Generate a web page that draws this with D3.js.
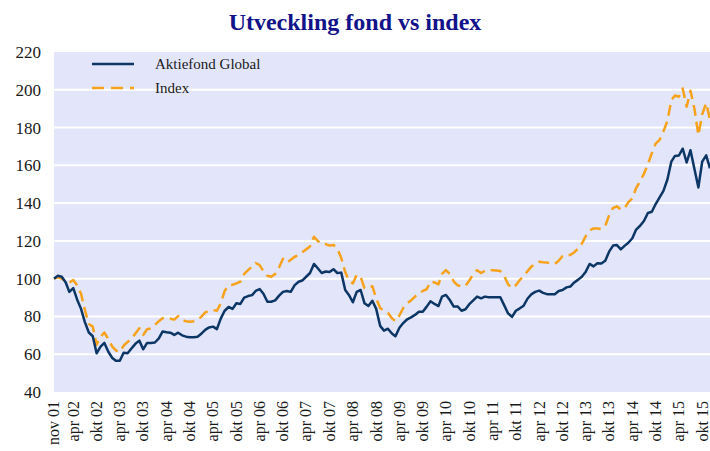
<!DOCTYPE html>
<html>
<head>
<meta charset="utf-8">
<script src="https://cdn.jsdelivr.net/npm/d3@7"></script>
<style>
  body { margin: 0; background: #fff; }
  svg text { font-family: "Liberation Serif", "DejaVu Serif", serif; }
</style>
</head>
<body>
<div id="chart"></div>
<script>
// monthly values, nov 01 -> dec 15
var fund = [
	100, 101.5, 101, 98, 93, 95, 89, 84, 77, 71.5, 69.5, 60.5,
	64, 66, 61.3, 58, 56.5, 56.5, 60.8, 60.5, 63, 65.5, 67.2, 62.6,
	66, 66, 66.2, 68.4, 72, 71.6, 71.4, 70.2, 71.4, 70, 69.3, 69,
	69, 69.3, 71, 73, 74.2, 74.6, 73.3, 79, 83, 85, 84, 87,
	86.6, 90, 90.8, 91.3, 93.5, 94.5, 92, 87.8, 87.8, 88.5, 91, 93,
	93.5, 93, 96.6, 98.4, 99, 101, 103, 107.8, 105.5, 103, 103.8, 103.5,
	105, 103, 103.2, 94, 91.4, 87.5, 93, 94, 87, 85.5, 88.3, 84,
	75, 72.5, 73.5, 71, 69.5, 74, 76.5, 78.5, 79.5, 80.8, 82.5, 82.5,
	85.2, 88, 86.6, 85.5, 90.5, 91.4, 88.7, 85.2, 85.3, 83, 83.8, 86.5,
	88.5, 90.5, 89.6, 90.5, 90.2, 90.2, 90.2, 90.2, 86, 81.6, 79.8, 83,
	84.3, 85.7, 89.5, 91.8, 93, 93.7, 92.5, 91.8, 91.8, 91.8, 93.5, 94,
	95.4, 95.8, 98, 99.5, 101, 103.7, 107.8, 106.5, 108.2, 108, 109.5, 114.3,
	117.5, 117.8, 115.5, 117.5, 119, 121.4, 126, 128, 130.5, 134.8, 135.4, 139.5,
	143, 146.5, 152.5, 162, 165, 165.2, 168.8, 161.5, 168, 158, 148.3, 162,
	165.3, 158.4
]

var index = [
	100, 100.7, 100, 98.5, 98, 99.3, 96.5, 92, 83.5, 76, 74.6, 65,
	69.3, 71.5, 68, 64, 62, 61.3, 64.5, 66.5, 68, 71, 73.7, 70.2,
	73.2, 73.7, 75.5, 77.5, 79, 79, 78.8, 78.3, 80.2, 78, 77.5, 77.2,
	77.5, 78.1, 80, 82.3, 82.7, 83.4, 83, 87, 93.5, 96.3, 96.8, 97.5,
	98.4, 102.5, 104.5, 106.5, 108.3, 107.2, 104, 101.5, 101, 102.5, 106, 110.5,
	108.5, 110, 111.6, 112.5, 114, 115.5, 117, 122.2, 120, 118.4, 118.3, 117.5,
	117.8, 116, 111, 103.5, 99, 97.5, 102, 101, 95, 95.5, 96, 89.5,
	84.5, 83, 82, 79, 77.5, 80.5, 84.5, 87, 88.5, 90.5, 92.2, 93.5,
	94.4, 98.5, 98, 97, 102.5, 104.5, 102.5, 98.5, 96.5, 96, 96.2, 99,
	102.5, 104.5, 103, 104.2, 104.6, 104.5, 104.3, 104, 101.5, 97, 95, 96.5,
	99.3, 101.5, 104, 106.5, 107.5, 109, 108.7, 108.5, 108.1, 107.8, 109.5, 112,
	112.5, 112.5, 114, 116, 118.5, 122.5, 125.5, 126.6, 126.6, 126.3, 128, 133.5,
	137.5, 138.3, 136.5, 137.5, 140.5, 142.5, 148, 151.5, 155.5, 160.5, 166.5, 171.5,
	173.5, 178, 183.5, 194.5, 197, 196.3, 200.7, 191, 199.5, 190, 176, 187,
	193, 184
]

var tickLabels = ["nov 01", "apr 02", "okt 02", "apr 03", "okt 03", "apr 04", "okt 04",
	"apr 05", "okt 05", "apr 06", "okt 06", "apr 07", "okt 07", "apr 08", "okt 08",
	"apr 09", "okt 09", "apr 10", "okt 10", "apr 11", "okt 11", "apr 12", "okt 12",
	"apr 13", "okt 13", "apr 14", "okt 14", "apr 15", "okt 15"]

var yTicks = [40, 60, 80, 100, 120, 140, 160, 180, 200, 220]
var seriesNames = ["Aktiefond Global", "Index"]

var months = ["jan","feb","mar","apr","maj","jun","jul","aug","sep","okt","nov","dec"]
function parseLabel(s) {
	var p = s.split(" ")
	return new Date(2000 + (+p[1]), months.indexOf(p[0]), 1)
}

var width = 710, height = 451
var margin = {top: 52, right: 0, bottom: 59, left: 54}

var startDate = new Date(2001, 10, 1)
var dates = fund.map(function(d, i) { return new Date(2001, 10 + i, 1) })

var x = d3.scaleTime()
	.domain([startDate, dates[dates.length - 1]])
	.range([margin.left, width - margin.right])

var y = d3.scaleLinear()
	.domain([40, 220])
	.range([height - margin.bottom, margin.top])

var svg = d3.select("#chart").append("svg")
	.attr("width", width)
	.attr("height", height)

svg.append("text")
	.attr("x", 355)
	.attr("y", 30)
	.attr("text-anchor", "middle")
	.attr("fill", "#12128a")
	.style("font-size", "24px")
	.style("font-weight", "bold")
	.text("Utveckling fond vs index")

svg.append("rect")
	.attr("x", margin.left)
	.attr("y", margin.top)
	.attr("width", width - margin.left - margin.right)
	.attr("height", height - margin.top - margin.bottom)
	.attr("fill", "#e3e5fa")

// grid
svg.append("g")
	.selectAll("line")
	.data(yTicks.filter(function(d) { return d > 40 && d < 220 }))
	.enter().append("line")
	.attr("x1", margin.left)
	.attr("x2", width)
	.attr("y1", function(d) { return y(d) })
	.attr("y2", function(d) { return y(d) })
	.attr("stroke", "#fff")
	.attr("stroke-width", 2)

var yAxis = d3.axisLeft(y).tickValues(yTicks).tickSize(0).tickPadding(13)
svg.append("g")
	.attr("transform", "translate(" + margin.left + ",0)")
	.call(yAxis)
	.call(function(g) { g.select(".domain").remove() })
	.selectAll("text")
	.style("font-size", "17px")
	.attr("fill", "#1a1a1a")

var xAxis = d3.axisBottom(x)
	.tickValues(tickLabels.map(parseLabel))
	.tickSize(0)
	.tickFormat(function(d, i) { return tickLabels[i] })

svg.append("g")
	.attr("transform", "translate(0," + (height - margin.bottom) + ")")
	.call(xAxis)
	.call(function(g) { g.select(".domain").remove() })
	.selectAll("text")
	.style("font-size", "16px")
	.attr("fill", "#1a1a1a")
	.attr("text-anchor", "end")
	.attr("transform", "rotate(-90)")
	.attr("x", -9)
	.attr("y", 0)
	.attr("dy", "0.3em")

var line = d3.line()
	.x(function(d, i) { return x(dates[i]) })
	.y(function(d) { return y(d) })

svg.append("path")
	.datum(index)
	.attr("fill", "none")
	.attr("stroke", "#f7a21c")
	.attr("stroke-width", 2.5)
	.attr("stroke-dasharray", "11,6")
	.attr("stroke-linejoin", "round")
	.attr("d", line)

svg.append("path")
	.datum(fund)
	.attr("fill", "none")
	.attr("stroke", "#0c3665")
	.attr("stroke-width", 2.5)
	.attr("stroke-linejoin", "round")
	.attr("d", line)

// legend
var legend = svg.append("g")
var legendStyles = [
	{color: "#0c3665", dash: null},
	{color: "#f7a21c", dash: "12,7"}
]
seriesNames.forEach(function(name, i) {
	var ly = 64 + i * 24
	legend.append("line")
		.attr("x1", 92).attr("x2", 134)
		.attr("y1", ly).attr("y2", ly)
		.attr("stroke", legendStyles[i].color)
		.attr("stroke-width", 2.5)
		.attr("stroke-dasharray", legendStyles[i].dash)
	legend.append("text")
		.attr("x", 155)
		.attr("y", ly + 5)
		.style("font-size", "15px")
		.attr("fill", "#1a1a1a")
		.text(name)
})
</script>
</body>
</html>
